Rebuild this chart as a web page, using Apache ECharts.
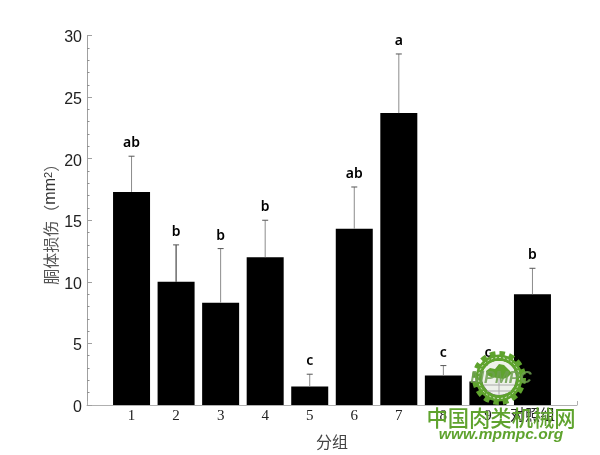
<!DOCTYPE html>
<html><head><meta charset="utf-8">
<style>html,body{margin:0;padding:0;background:#fff}#c{width:600px;height:455px}</style>
<script src="https://cdn.jsdelivr.net/npm/echarts@6/dist/echarts.min.js"></script>
</head><body><div id="c"></div>
<script>
const groups = ['1','2','3','4','5','6','7','8','9','对照组'];
const means = [17.3,10,8.3,12,1.5,14.3,23.7,2.4,1.9,9];
const errorTops = [20.2,13,12.7,15,2.5,17.7,28.5,3.2,3.2,11.1];
const letters = ['ab','b','b','b','c','ab','a','c','c','b'];
const yTicks = [0,5,10,15,20,25,30];

const categories = ['', ...groups, ' '];
const barData = [null, ...means, null];
const errData = groups.map((g,i)=>[i+1, means[i], errorTops[i], letters[i]]);

const CJK = '"Noto Sans CJK SC"';
const chart = echarts.init(document.getElementById('c'), null, {renderer:'canvas'});

const green = '#5fa32e';
const cx = 499, cy = 378;
chart.setOption({
  animation:false,
  backgroundColor:'#fff',
  grid:{left:87,right:23,top:35.5,bottom:49.5},
  xAxis:{
    type:'category',data:categories,boundaryGap:false,
    axisLine:{lineStyle:{color:'#b0b0b0',width:1}},
    axisTick:{inside:true,length:4,alignWithLabel:true,lineStyle:{color:'#b0b0b0'}},
    axisLabel:{interval:0,margin:4,color:'#222',fontFamily:'"Liberation Serif",'+CJK,fontSize:15},
    splitLine:{show:false},
    name:'分组',nameLocation:'middle',nameGap:29,
    nameTextStyle:{fontFamily:CJK,fontSize:16,color:'#444'}
  },
  yAxis:{
    type:'value',min:0,max:30,interval:5,
    axisLine:{show:true,lineStyle:{color:'#a0a0a0',width:1}},
    axisTick:{show:true,inside:true,length:5,lineStyle:{color:'#a0a0a0'}},
    minorTick:{show:true,splitNumber:5,length:2.5,lineStyle:{color:'#909090'}},
    axisLabel:{margin:5,color:'#222',fontFamily:'"Liberation Sans"',fontSize:16,verticalAlign:'top',lineHeight:5,
      formatter:v=>yTicks.includes(v)?String(v):''},
    splitLine:{show:false},
    name:'{a|胴体损伤（}{b|mm}{s|2}{a|）}',nameLocation:'middle',nameRotate:90,nameGap:28,nameMoveOverlap:false,
    nameTextStyle:{rich:{
      a:{fontFamily:CJK,fontSize:16,color:'#555'},
      b:{fontFamily:'"Liberation Sans"',fontSize:16,color:'#333'},
      s:{fontFamily:'"Liberation Sans"',fontSize:11,color:'#333',verticalAlign:'top'}
    }}
  },
  series:[
    {type:'bar',data:barData,barWidth:37,itemStyle:{color:'#000'},z:2},
    {type:'custom',data:errData,z:3,clip:false,
      encode:{x:0,y:[1,2]},
      renderItem(params,api){
        const x=api.value(0);
        const a=api.coord([x,api.value(1)]);
        const b=api.coord([x,api.value(2)]);
        const col = params.dataIndex===1 ? '#222' : '#8c8c8c';
        const st={stroke:col,lineWidth:1};
        return {type:'group',children:[
          {type:'line',shape:{x1:a[0],y1:a[1],x2:b[0],y2:b[1]},style:st},
          {type:'line',shape:{x1:b[0]-3,y1:b[1],x2:b[0]+3,y2:b[1]},style:{stroke:'#555',lineWidth:1}},
          {type:'text',style:{x:b[0],y:b[1]-6,text:letters[params.dataIndex],
            textAlign:'center',textVerticalAlign:'bottom',
            font:'600 14px "Noto Sans"',fill:'#000'}}
        ]};
      }
    }
  ],
  graphic:[
    {type:'circle',z:100,shape:{cx,cy,r:24.5},style:{fill:'none',stroke:green,lineWidth:5,lineDash:[5.5,4.1]}},
    {type:'ring',z:100,shape:{cx,cy,r:23.5,r0:17},style:{fill:green}},
    {type:'circle',z:100,shape:{cx,cy,r:17},style:{fill:'#eef1ea'}},
    {type:'circle',z:100,shape:{cx,cy,r:20.5},style:{fill:'none',stroke:'#d5e6c8',lineWidth:1,lineDash:[2,2]}},
    {type:'polygon',z:101,shape:{points:[[486,371],[490,368],[495,369],[499,364],[504,365],[509,370],[512,373],[508,377],[503,379],[497,378],[491,377],[487,375]]},style:{fill:green}},
    {type:'line',z:101,shape:{x1:484,y1:385,x2:514,y2:385},style:{stroke:'#aaa',lineWidth:1}},
    {type:'line',z:101,shape:{x1:487,y1:391,x2:511,y2:391},style:{stroke:'#aaa',lineWidth:1}},
    {type:'line',z:101,shape:{x1:499,y1:379,x2:499,y2:395},style:{stroke:'#aaa',lineWidth:1}},
    {type:'text',z:102,style:{x:501,y:378,text:'MPMPC',textAlign:'center',textVerticalAlign:'middle',font:'italic bold 16.5px "Liberation Sans"',fill:'rgba(110,160,80,0.85)'}},
    {type:'text',z:103,style:{x:501,y:418,text:'中国肉类机械网',textAlign:'center',textVerticalAlign:'middle',font:'500 21.3px '+CJK,fill:green}},
    {type:'text',z:103,style:{x:501,y:435,text:'www.mpmpc.org',textAlign:'center',textVerticalAlign:'middle',font:'italic bold 15.5px "Liberation Sans"',fill:green}}
  ]
});
</script></body></html>
